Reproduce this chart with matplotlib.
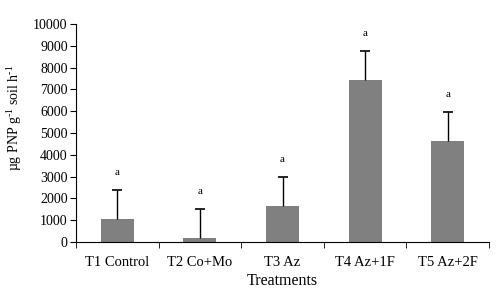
import matplotlib
matplotlib.use("Agg")
import matplotlib.pyplot as plt
import numpy as np

plt.rcParams['font.family'] = ['Liberation Serif', 'DejaVu Serif']
plt.rcParams['mathtext.fontset'] = 'custom'
plt.rcParams['mathtext.rm'] = 'Liberation Serif'

treatments = ["T1 Control", "T2 Co+Mo", "T3 Az", "T4 Az+1F", "T5 Az+2F"]
values = [1070, 170, 1665, 7450, 4630]
errors = [1330, 1330, 1330, 1320, 1330]
letters = ["a", "a", "a", "a", "a"]

fig = plt.figure(figsize=(5, 2.96), dpi=100)
ax = fig.add_axes([0.152, 0.182, 0.826, 0.737])

x = np.arange(len(treatments))
tops = np.array(values) + np.array(errors)
ax.bar(x, values, width=0.4, color='#808080', zorder=2)
# upper error bars only, cap at the top
ax.vlines(x, values, tops, color='black', linewidth=1, zorder=3)
ax.plot(x, tops, linestyle='none', marker='_', markersize=7,
        markeredgewidth=1.2, color='black', zorder=3)

for xi, t, lab in zip(x, tops, letters):
    ax.text(xi, t + 800, lab, ha='center', va='center', fontsize=8)

ax.set_xlim(-0.5, len(treatments) - 0.5)
ax.set_ylim(0, 10000)
ax.set_yticks(np.arange(0, 10001, 1000))
ax.tick_params(axis='y', direction='out', length=4, labelsize=10, pad=2)

ax.set_xticks(x)
ax.set_xticklabels(treatments, fontsize=10.5)
ax.tick_params(axis='x', length=0, pad=10)
ax.set_xticks(np.arange(-0.5, len(treatments)), minor=True)
ax.tick_params(axis='x', which='minor', direction='out', length=4)

ax.spines['top'].set_visible(False)
ax.spines['right'].set_visible(False)

ax.set_xlabel("Treatments", fontsize=11.5, labelpad=3)
ax.set_ylabel(r"µg PNP g$^{\text{-1}}$ soil h$^{\text{-1}}$", fontsize=10)
ax.yaxis.set_label_coords(-0.125, 0.57)

fig.savefig("out.png", dpi=100)
